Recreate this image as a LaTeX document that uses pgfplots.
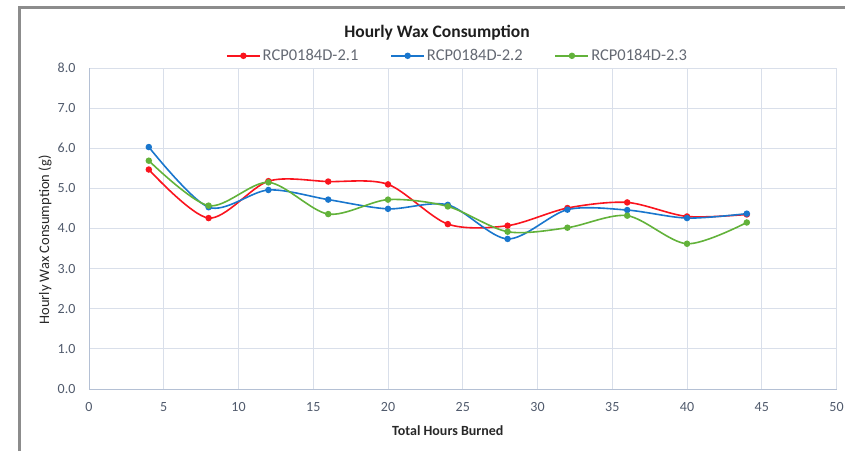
\documentclass[border=0pt]{standalone}
\usepackage{pgfplots}
\pgfplotsset{compat=1.18}
\usepackage{fontspec}
\setmainfont{Carlito}
\definecolor{cred}{RGB}{250,20,30}
\definecolor{cblue}{RGB}{25,118,205}
\definecolor{cgreen}{RGB}{98,178,58}
\definecolor{tickc}{RGB}{80,90,108}
\definecolor{gridc}{RGB}{217,223,234}
\definecolor{axc}{RGB}{180,192,212}
\definecolor{legc}{RGB}{100,105,115}
\begin{document}
\begin{tikzpicture}[x=1pt,y=1pt]
\useasboundingbox (0,0) rectangle (845,451);
\draw[line width=3pt, color={rgb,255:red,140;green,140;blue,140}] (19.5,0) -- (19.5,443.5) -- (845,443.5);
\begin{axis}[
  at={(89pt,62pt)}, anchor=south west,
  scale only axis, width=747.5pt, height=321pt,
  xmin=0, xmax=50, ymin=0, ymax=8,
  xtick={0,5,...,50}, ytick={0,1,...,8},
  axis x line*=bottom, axis y line*=left,
  axis line style={color=axc, line width=1pt, -},
  grid=major, major grid style={color=gridc, line width=1pt},
  major tick length=0pt,
  /pgf/number format/assume math mode=true,
  y tick label style={/pgf/number format/.cd, fixed, fixed zerofill, precision=1, /tikz/.cd},
  yticklabel style={font=\fontsize{14}{14}\selectfont, color=tickc, anchor=east, xshift=-10pt},
  xticklabel style={font=\fontsize{14}{14}\selectfont, color=tickc, anchor=north, yshift=-10pt},
  title={Hourly Wax Consumption},
  title style={font=\bfseries\fontsize{17.5}{17.5}\selectfont, color={rgb,255:red,30;green,30;blue,30}, at={(0.4656,1.09)}, anchor=center},
  xlabel={Total Hours Burned},
  xlabel style={font=\bfseries\fontsize{14}{14}\selectfont, color={rgb,255:red,40;green,40;blue,40}, at={(0.480,-0.131)}, anchor=center},
  ylabel={Hourly Wax Consumption (g)},
  ylabel style={font=\fontsize{14.5}{14.5}\selectfont, color={rgb,255:red,40;green,40;blue,40}, at={(-0.0589,0.464)}, anchor=center, rotate=0},
  legend columns=3,
  legend style={draw=none, fill=none, at={(0.493,1.038)}, anchor=center,
    font=\fontsize{16.5}{16.5}\selectfont, text=legc,
    /tikz/every even column/.append style={column sep=30pt}},
  legend image code/.code={\draw[#1,mark repeat=2,mark phase=2] plot coordinates {(0pt,0pt) (16.5pt,0pt) (33pt,0pt)};},
  every axis plot/.append style={line width=1.6pt, smooth, mark=*, mark size=2.4pt},
]
\addplot[color=cred, mark options={fill=cred}] coordinates {
(4,5.47) (8,4.26) (12,5.18) (16,5.17) (20,5.10) (24,4.11) (28,4.07) (32,4.51) (36,4.65) (40,4.30) (44,4.35)};
\addlegendentry{RCP0184D-2.1}
\addplot[color=cblue, mark options={fill=cblue}] coordinates {
(4,6.03) (8,4.53) (12,4.96) (16,4.72) (20,4.49) (24,4.59) (28,3.74) (32,4.47) (36,4.46) (40,4.26) (44,4.37)};
\addlegendentry{RCP0184D-2.2}
\addplot[color=cgreen, mark options={fill=cgreen}] coordinates {
(4,5.69) (8,4.57) (12,5.15) (16,4.36) (20,4.72) (24,4.55) (28,3.92) (32,4.02) (36,4.32) (40,3.62) (44,4.15)};
\addlegendentry{RCP0184D-2.3}
\end{axis}
\end{tikzpicture}
\end{document}
